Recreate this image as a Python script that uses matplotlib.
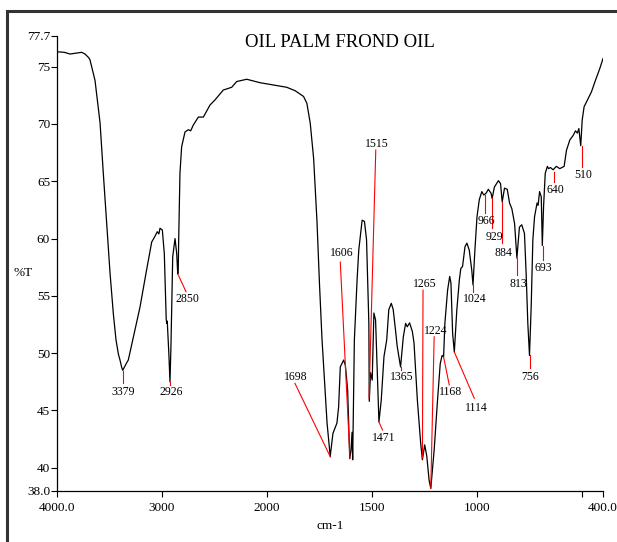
import numpy as np
import matplotlib
matplotlib.use('Agg')
import matplotlib.pyplot as plt
from matplotlib.patches import Rectangle
from matplotlib.ticker import FixedLocator, FixedFormatter

plt.rcParams['font.family'] = ['Liberation Serif', 'DejaVu Serif']

# spectrum (wavenumber cm-1, %T)
wn = [4000, 3930, 3876, 3800, 3765, 3733, 3700, 3686, 3638, 3590, 3559, 3527,
      3495, 3464, 3438, 3415, 3400, 3385, 3374, 3360, 3340, 3321, 3279, 3210,
      3146, 3098, 3067, 3045,
      3030, 3019, 2997, 2978, 2960, 2955, 2950, 2935, 2924, 2915, 2898, 2876,
      2860, 2850, 2845, 2841, 2829, 2813, 2781, 2749, 2727, 2702, 2654, 2606,
      2543, 2495, 2416, 2336, 2289, 2193, 2067, 1970, 1906, 1866, 1826, 1810,
      1794, 1778, 1762, 1750, 1738, 1714, 1699, 1686, 1667, 1659, 1651, 1635,
      1627, 1616, 1606, 1600, 1595, 1592, 1584, 1571, 1563, 1547, 1536, 1526,
      1515, 1513, 1507, 1499, 1491, 1483, 1475, 1467, 1456, 1443, 1430, 1420,
      1408, 1399, 1388, 1380, 1364, 1351, 1340, 1332, 1321, 1308, 1300, 1284,
      1268, 1260, 1249, 1239, 1228, 1220, 1204, 1188, 1175, 1166, 1159, 1153,
      1140, 1130, 1124, 1116, 1108, 1096, 1084, 1077, 1069, 1057, 1048, 1037,
      1025, 1019, 1010, 1000, 989, 977, 968, 957, 946, 933, 928, 917,
      898, 888, 880, 869, 856, 845, 834, 821, 810, 798, 787, 774,
      766, 758, 750, 742, 734, 726, 714, 709, 702, 694, 689, 683,
      675, 665, 659, 650, 638, 622, 606, 595, 585, 574, 558, 542,
      531, 522, 515, 506, 499, 490, 471, 455, 436, 415, 400]
trans = [76.3, 76.25, 76.1, 76.2, 76.25, 76.1, 75.8, 75.6, 73.8, 70.1, 65.7, 61.4,
         57.0, 53.5, 51.15, 49.9, 49.4, 48.8, 48.5, 48.75, 49.1, 49.4, 51.15, 54.0,
         57.3, 59.7, 60.2, 60.6,
         60.4, 60.9, 60.75, 58.7, 53.0, 52.6, 52.8, 50.0, 47.5, 50.5, 58.4, 60.0,
         58.7, 56.9, 57.5, 59.9, 65.7, 68.0, 69.3, 69.5, 69.4, 69.9, 70.6, 70.6,
         71.65, 72.1, 72.96, 73.2, 73.7, 73.9, 73.6, 73.4, 73.2, 72.9, 72.4, 71.8,
         70.05, 67.0, 61.5, 56.0, 51.2, 43.9, 41.0, 43.0, 43.9, 45.3, 48.8, 49.4,
         48.96, 46.8, 40.8, 41.55, 43.1, 40.7, 51.15, 56.4, 59.0, 61.6, 61.5, 59.9,
         52.6, 45.8, 48.3, 47.65, 53.5, 52.9, 48.3, 44.0, 45.9, 49.7, 51.15, 53.8,
         54.35, 53.8, 52.0, 50.6, 48.8, 51.4, 52.6, 52.3, 52.65, 51.9, 50.9, 45.9,
         42.1, 40.7, 42.0, 41.0, 38.9, 38.2, 41.55, 45.9, 49.1, 49.8, 49.7, 52.6,
         55.5, 56.7, 56.1, 51.7, 50.1, 53.8, 56.4, 57.4, 57.55, 59.3, 59.6, 59.0,
         57.25, 55.95, 59.0, 61.9, 63.4, 64.1, 63.8, 63.95, 64.3, 63.95, 63.5, 64.5,
         65.05, 64.8, 63.2, 64.4, 64.3, 63.1, 62.6, 61.3, 58.3, 61.0, 61.2, 60.45,
         56.95, 52.6, 49.8, 54.05, 59.9, 61.9, 63.1, 62.9, 64.1, 63.65, 59.4, 62.8,
         65.7, 66.3, 66.1, 66.2, 66.0, 66.3, 66.1, 66.2, 66.3, 67.7, 68.6, 69.0,
         69.4, 69.2, 69.6, 68.1, 70.35, 71.5, 72.2, 72.8, 73.8, 74.85, 75.7]

# peak marks: label, line from (w, T) to (w, T), label at (w, T)
peak_labels = ["3379", "2926", "2850", "1698", "1606", "1515", "1471", "1365",
               "1265", "1224", "1168", "1114", "1024", "966", "929", "884",
               "813", "756", "693", "640", "510"]
peak_lines = [((3374, 48.45), (3374, 47.37)), ((2924, 47.5), (2924, 47.2)),
              ((2845, 56.82), (2771, 55.36)), ((1698, 40.94), (1867, 47.37)),
              ((1605, 40.84), (1651, 57.95)), ((1514, 46.09), (1482, 67.73)),
              ((1467, 44.0), (1450, 43.3)), ((1364, 48.83), (1364, 48.5)),
              ((1260, 40.85), (1257, 55.5)), ((1220, 38.23), (1204, 51.43)),
              ((1159, 49.66), (1132, 47.22)), ((1108, 50.1), (1013, 46.06)),
              ((1019, 55.95), (1019, 55.34)), ((964, 63.8), (964, 62.2)),
              ((927, 63.54), (927, 60.9)), ((880, 63.2), (880, 59.6)),
              ((810, 58.3), (810, 56.82)), ((748, 49.84), (748, 48.68)),
              ((685, 59.35), (685, 58.13)), ((631, 65.83), (631, 64.96)),
              ((502, 68.08), (502, 66.27))]
peak_text = [(3368, 46.6), (2914, 46.6), (2759, 54.72), (1861, 47.9),
             (1643, 58.7), (1476, 68.25), (1443, 42.57), (1356, 47.89),
             (1248, 56.03), (1196, 51.96), (1124, 46.58), (1005, 45.24),
             (1010, 54.72), (956, 61.53), (919, 60.11), (873, 58.71),
             (805, 56.01), (745, 47.89), (682, 57.4), (626, 64.24), (495, 65.54)]

xticks = [4000, 3000, 2000, 1500, 1000, 500, 400]
xticklabels = ["4000.0", "3000", "2000", "1500", "1000", "", "400.0"]
yticks = [38.0, 40, 45, 50, 55, 60, 65, 70, 75, 77.7]
yticklabels = ["38.0", "40", "45", "50", "55", "60", "65", "70", "75", "77.7"]


# below 2000 cm-1 the axis is stretched twice
def fwd(w):
    w = np.asarray(w, dtype=float)
    return np.where(w >= 2000, w, 2 * w - 2000)


def inv(u):
    u = np.asarray(u, dtype=float)
    return np.where(u >= 2000, u, (u + 2000) / 2)


fig = plt.figure(figsize=(6.17, 5.42), dpi=100)
fig.add_artist(Rectangle((7 / 617, -0.5), 2, 0.5 + 1 - 11 / 542,
                         transform=fig.transFigure, fill=False,
                         edgecolor='#333333', linewidth=2.2))

ax = fig.add_axes([57 / 617, 51.3 / 542, 546 / 617, 455 / 542])
ax.set_xscale('function', functions=(fwd, inv))
ax.plot(wn, trans, color='black', linewidth=0.9)

for lab, (p0, p1), (tx, ty) in zip(peak_labels, peak_lines, peak_text):
    ax.plot([p0[0], p1[0]], [p0[1], p1[1]], color='red', linewidth=0.8)
    ax.text(tx, ty, lab, ha='center', va='center', fontsize=8.5)

ax.set_xlim(4000, 400)
ax.set_ylim(38.0, 77.7)
ax.xaxis.set_major_locator(FixedLocator(xticks))
ax.xaxis.set_major_formatter(FixedFormatter(xticklabels))
ax.xaxis.set_minor_locator(FixedLocator([]))
ax.yaxis.set_major_locator(FixedLocator(yticks))
ax.yaxis.set_major_formatter(FixedFormatter(yticklabels))
ax.tick_params(axis='x', direction='out', length=4, width=0.8, labelsize=9.5, pad=4)
ax.tick_params(axis='y', direction='out', length=4, width=0.8, labelsize=9.5, pad=1)
for s in ['top', 'right']:
    ax.spines[s].set_visible(False)
for s in ['left', 'bottom']:
    ax.spines[s].set_linewidth(0.9)

fig.text(339.5 / 617, 1 - 42 / 542, 'OIL PALM FROND OIL', ha='center',
         va='center', fontsize=13.5)
fig.text(330 / 617, 1 - 525.7 / 542, 'cm-1', ha='center', va='center', fontsize=9.5)
fig.text(23.3 / 617, 1 - 272.7 / 542, '%T', ha='center', va='center', fontsize=9.5)

fig.savefig('out.png', dpi=100)
